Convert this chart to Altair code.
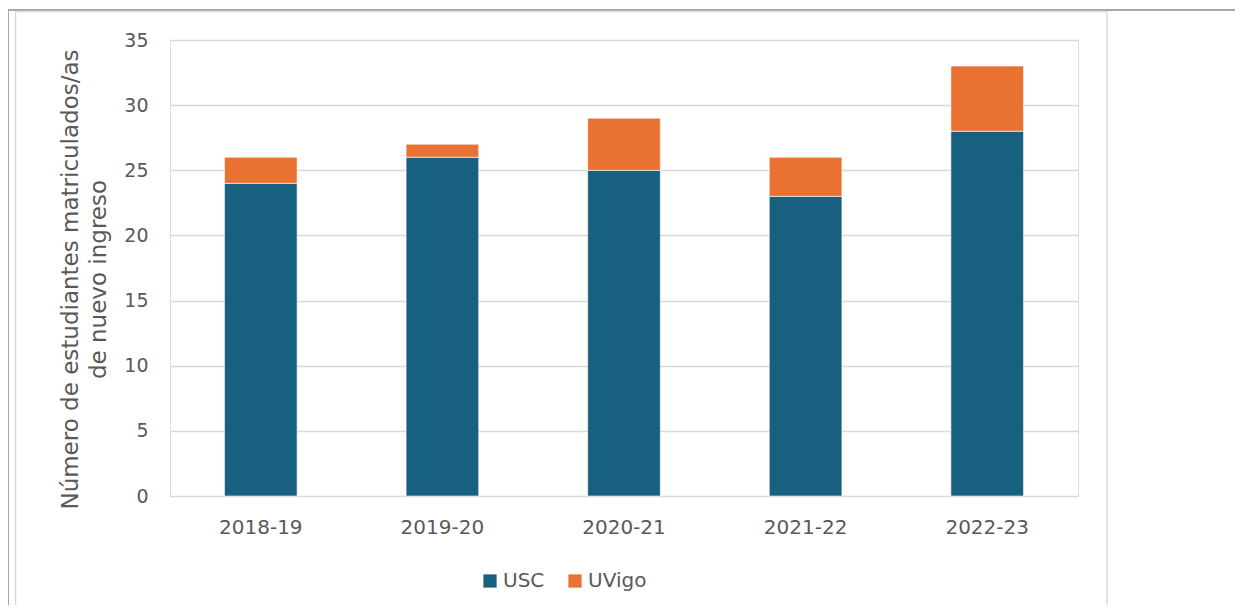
import altair as alt
import pandas as pd

years = ["2018-19", "2019-20", "2020-21", "2021-22", "2022-23"]
usc = [24, 26, 25, 23, 28]
uvigo = [2, 1, 4, 3, 5]
series = ["USC", "UVigo"]
colors = ["#17607F", "#E97132"]

rows = []
for i, y in enumerate(years):
    rows.append({"year": y, "univ": "USC", "value": usc[i], "order": 0})
    rows.append({"year": y, "univ": "UVigo", "value": uvigo[i], "order": 1})
df = pd.DataFrame(rows)

FONT = "DejaVu Sans"
TXT = "#595959"

bars = alt.Chart(df).mark_bar(stroke="white", strokeWidth=0.6).encode(
    x=alt.X("year:N", sort=years,
            scale=alt.Scale(paddingInner=0.6, paddingOuter=0.3),
            axis=alt.Axis(title=None, labelAngle=0, labelFontSize=20, labelColor=TXT,
                          labelFont=FONT, domain=False, ticks=False, labelPadding=21,
                          grid=False)),
    y=alt.Y("value:Q", stack="zero",
            scale=alt.Scale(domain=[0, 35], nice=False),
            axis=alt.Axis(values=[0, 5, 10, 15, 20, 25, 30, 35],
                          title=["Número de estudiantes matriculados/as", "de nuevo ingreso"],
                          titleFontSize=23, titleFont=FONT, titleColor=TXT, titleFontWeight="normal",
                          titleLineHeight=28, titlePadding=13, titleY=239,
                          labelFontSize=19, labelColor=TXT, labelFont=FONT, labelPadding=22,
                          domain=False, ticks=False, gridColor="#D9D9D9", gridWidth=1.3)),
    color=alt.Color("univ:N", scale=alt.Scale(domain=series, range=colors),
                    legend=alt.Legend(title=None, orient="none", legendX=310, legendY=531,
                                      direction="horizontal", symbolType="square",
                                      symbolSize=175, symbolStrokeWidth=0,
                                      labelFontSize=20, labelFont=FONT, labelColor=TXT,
                                      columnPadding=20, labelOffset=3)),
    order=alt.Order("order:Q"),
)

frame = pd.DataFrame({"k": [0]})
top_dark = alt.Chart(frame).mark_rule(color="#A6A6A6", strokeWidth=2).encode(
    x=alt.value(-163), x2=alt.value(1065), y=alt.value(-30))
left_dark = alt.Chart(frame).mark_rule(color="#A6A6A6", strokeWidth=2).encode(
    x=alt.value(-162), y=alt.value(-30), y2=alt.value(575))
inner_top = alt.Chart(frame).mark_rule(color="#D9D9D9", strokeWidth=1.5).encode(
    x=alt.value(-155), x2=alt.value(937), y=alt.value(-28.5))
inner_left = alt.Chart(frame).mark_rule(color="#D9D9D9", strokeWidth=1.5).encode(
    x=alt.value(-154.5), y=alt.value(-28.5), y2=alt.value(575))
inner_right = alt.Chart(frame).mark_rule(color="#D9D9D9", strokeWidth=1.5).encode(
    x=alt.value(937), y=alt.value(-28.5), y2=alt.value(575))

chart = alt.layer(bars, top_dark, left_dark, inner_top, inner_left, inner_right).properties(
    width=908, height=456,
    autosize=alt.AutoSizeParams(type="none"),
    padding={"left": 162, "top": 32, "right": 157, "bottom": 109},
).configure_view(stroke=None).configure(background="white")

chart.save("out.html", embed_options={"renderer": "svg", "actions": False})
